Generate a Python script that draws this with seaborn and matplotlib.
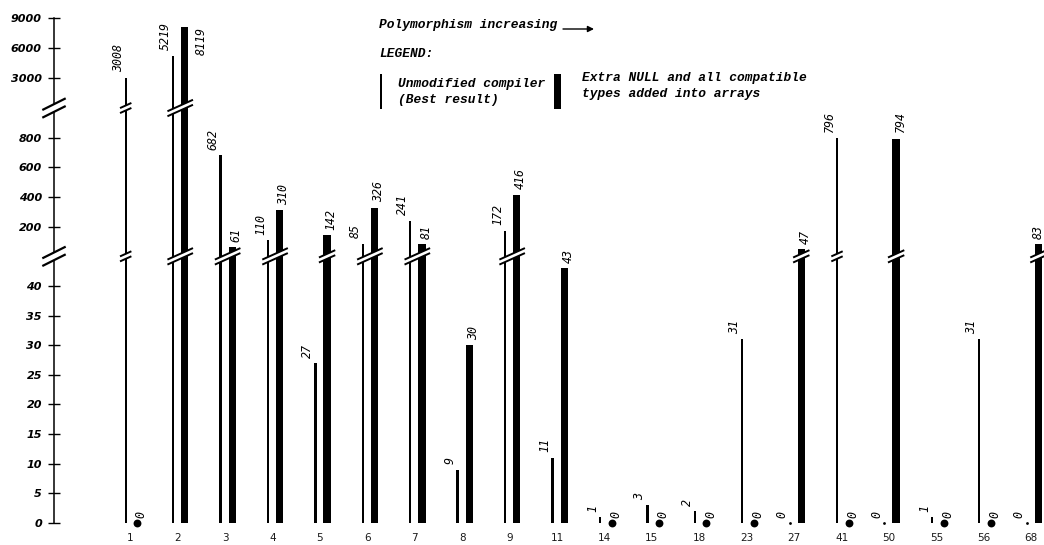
import numpy as np
import pandas as pd
import matplotlib
matplotlib.use("Agg")
import matplotlib.pyplot as plt
import seaborn as sns
from matplotlib.patches import Polygon, Rectangle
from matplotlib.lines import Line2D
from matplotlib.transforms import IdentityTransform

# ---------------- data ----------------
groups = ['1', '2', '3', '4', '5', '6', '7', '8', '9', '11',
          '14', '15', '18', '23', '27', '41', '50', '55', '56', '68']
unmodified = [3008, 5219, 682, 110, 27, 85, 241, 9, 172, 11,
              1, 3, 2, 31, 0, 796, 0, 1, 31, 0]
extra_null = [0, 8119, 61, 310, 142, 326, 81, 30, 416, 43,
              0, 0, 0, 0, 47, 0, 794, 0, 0, 83]
y_ticks = [0, 5, 10, 15, 20, 25, 30, 35, 40, 200, 400, 600, 800, 3000, 6000, 9000]
breaks = [45, 1000]

# ---------------- broken (piecewise) y scale ----------------
A_K = 5.925
B_0 = 45 * A_K
B_K = 0.1483
C_0 = B_0 + 1000 * B_K
C_K = 0.01


def fwd(v):
    v = np.asarray(v, dtype=float)
    return np.where(v <= breaks[0], v * A_K,
                    np.where(v <= breaks[1], B_0 + v * B_K, C_0 + v * C_K))


def inv(h):
    h = np.asarray(h, dtype=float)
    return np.where(h <= B_0, h / A_K,
                    np.where(h <= C_0, (h - B_0) / B_K, (h - C_0) / C_K))


sns.set_theme(style="white")
plt.rcParams['font.family'] = ['DejaVu Sans']
plt.rcParams['text.color'] = 'black'
plt.rcParams['axes.labelcolor'] = 'black'
plt.rcParams['xtick.color'] = 'black'
plt.rcParams['ytick.color'] = 'black'

W, H = 1044, 545
fig = plt.figure(figsize=(W / 100, H / 100), dpi=100)
ax = fig.add_axes([54 / W, 22 / H, (W - 54) / W, 505 / H])

idx = np.arange(len(groups))
THIN_OFF, THICK_OFF = -0.097, 0.150
THIN_W, THICK_W = 0.05, 0.154

df_thin = pd.DataFrame({'pos': idx + THIN_OFF, 'val': unmodified})
df_thick = pd.DataFrame({'pos': idx + THICK_OFF, 'val': extra_null})

sns.barplot(data=df_thin, x='pos', y='val', native_scale=True, orient='x',
            width=THIN_W, color='black', saturation=1, linewidth=0,
            errorbar=None, ax=ax)
sns.barplot(data=df_thick, x='pos', y='val', native_scale=True, orient='x',
            width=THICK_W, color='black', saturation=1, linewidth=0,
            errorbar=None, ax=ax)

zthin = df_thin[df_thin['val'] == 0]
zthick = df_thick[df_thick['val'] == 0]
sns.scatterplot(data=zthick, x='pos', y='val', s=32, color='black',
                linewidth=0, clip_on=False, zorder=6, ax=ax)
sns.scatterplot(data=zthin, x='pos', y='val', s=4, color='black',
                linewidth=0, clip_on=False, zorder=6, ax=ax)

ax.set_yscale('function', functions=(fwd, inv))
ax.set_ylim(0, 9000)
ax.set_xlim((54 - 130.3) / 47.42, (W - 130.3) / 47.42)
ax.set_xlabel('')
ax.set_ylabel('')

ax.set_yticks(y_ticks)
ax.set_yticklabels([str(t) for t in y_ticks])
ax.minorticks_off()
ax.set_xticks(idx)
ax.set_xticklabels(groups)
ax.tick_params(axis='x', length=0, pad=7, labelsize=7.5, labelcolor='#1a1a1a')
ax.tick_params(axis='y', direction='inout', length=8, width=1.0, pad=4.7,
               labelsize=8, color='black', labelcolor='black', left=True)
for lab in ax.get_yticklabels():
    lab.set_fontweight('bold')
    lab.set_fontstyle('italic')
for s in ['top', 'right', 'bottom']:
    ax.spines[s].set_visible(False)
ax.spines['left'].set_color('black')
ax.spines['left'].set_linewidth(1.1)
ax.grid(False)

# ---------------- value labels ----------------
lab_font = dict(family='DejaVu Sans Mono', style='italic', size=8.4, color='black')
for series, off, dx in [(unmodified, THIN_OFF, -7.5), (extra_null, THICK_OFF, 4)]:
    for i, v in enumerate(series):
        x = i + off
        px, top_px = ax.transData.transform((x, v))
        txt_len = len(str(v)) * 7.0
        if top_px + 5 + txt_len > H - 1:
            ax.annotate(str(v), xy=(x, v), xytext=(16, 0), textcoords='offset pixels',
                        rotation=90, ha='center', va='top', annotation_clip=False,
                        **lab_font)
        else:
            # keep the label inside the figure at the right edge
            dxx = min(dx, (W - 6) - px)
            ax.annotate(str(v), xy=(x, v), xytext=(dxx, 5.5), textcoords='offset pixels',
                        rotation=90, ha='center', va='bottom', annotation_clip=False,
                        **lab_font)

# ---------------- break marks ----------------
ident = IdentityTransform()


def break_mark(xl, xr, yc, slope, sep, lw):
    xc = 0.5 * (xl + xr)
    yl = yc + slope * (xl - xc)
    yr = yc + slope * (xr - xc)
    poly = Polygon([[xl, yl - sep / 2], [xr, yr - sep / 2],
                    [xr, yr + sep / 2], [xl, yl + sep / 2]],
                   closed=True, facecolor='white', edgecolor='none',
                   transform=ident, zorder=8)
    fig.add_artist(poly)
    for s in (-sep / 2, sep / 2):
        fig.add_artist(Line2D([xl, xr], [yl + s, yr + s], color='black',
                              lw=lw, transform=ident, zorder=9,
                              solid_capstyle='butt'))


for i in idx:
    bars = [(i + THIN_OFF, THIN_W, unmodified[i]), (i + THICK_OFF, THICK_W, extra_null[i])]
    for b in breaks:
        cross = [(p, w) for p, w, v in bars if v > b]
        if not cross:
            continue
        left = min(p - w / 2 for p, w in cross)
        right = max(p + w / 2 for p, w in cross)
        xl = ax.transData.transform((left, b))[0] - 4.5
        xr = ax.transData.transform((right, b))[0] + 4.5
        yc = ax.transData.transform((i, b))[1]
        break_mark(xl, xr, yc, 0.45, 5.0, 1.4)

# axis break marks
x_axis = ax.transAxes.transform((0, 0))[0]
for b in breaks:
    yc = ax.transData.transform((0, b))[1]
    break_mark(x_axis - 11.7, x_axis + 11.7, yc, 0.5, 7.7, 1.6)

# ---------------- legend / annotation ----------------
leg_font = dict(family='Liberation Mono', weight='bold', style='italic', size=9.3,
                color='black')


def ftext(x, y, s):
    fig.text(x / W, 1 - y / H, s, ha='left', va='center', **leg_font)


ftext(379, 25, 'Polymorphism increasing')
ftext(379, 54, 'LEGEND:')
ftext(398, 84, 'Unmodified compiler')
ftext(398, 100, '(Best result)')
ftext(581.5, 78, 'Extra NULL and all compatible')
ftext(581.5, 94, 'types added into arrays')

fig.add_artist(Rectangle((379.5, H - 109), 2.4, 35, facecolor='black',
                         edgecolor='none', transform=ident))
fig.add_artist(Rectangle((554, H - 109), 7.2, 35, facecolor='black',
                         edgecolor='none', transform=ident))

ax.annotate('', xy=(594, H - 29), xycoords='figure pixels',
            xytext=(563, H - 29), textcoords='figure pixels',
            arrowprops=dict(arrowstyle='-|>', color='black', lw=1.0,
                            mutation_scale=9, shrinkA=0, shrinkB=0))

fig.savefig('out.png', dpi=100)
